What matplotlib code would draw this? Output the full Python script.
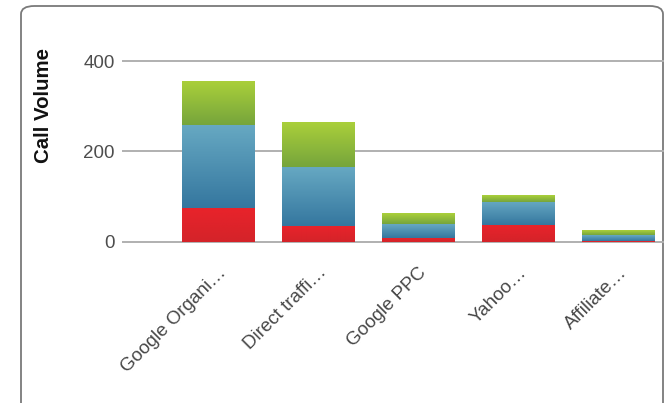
import numpy as np
import matplotlib
matplotlib.use("Agg")
import matplotlib.pyplot as plt
from matplotlib.patches import FancyBboxPatch
from matplotlib.colors import LinearSegmentedColormap

plt.rcParams['font.family'] = ['Liberation Sans', 'DejaVu Sans']

categories = ["Google Organi\u2026", "Direct traffi\u2026", "Google PPC", "Yahoo\u2026", "Affiliate\u2026"]
red_vals = [75, 35, 9, 37, 2]
blue_vals = [183, 130, 30, 52, 13]
green_vals = [98, 100, 24, 14, 11]

# gradient colours (top, bottom)
grads = [("#e8232b", "#d42329"), ("#66a8c2", "#35779f"), ("#abd03a", "#76a53c")]

fig = plt.figure(figsize=(6.68, 4.03), dpi=100)

# rounded frame
frame = FancyBboxPatch((21 / 668, -0.05), 642 / 668, (403 - 6) / 403 + 0.05,
                       boxstyle="round,pad=0,rounding_size=0.02",
                       transform=fig.transFigure, facecolor="none",
                       edgecolor="#7a7a7a", linewidth=1.3, zorder=-1)
fig.patches.append(frame)

ax = fig.add_axes([123 / 668, (403 - 241.7) / 403, (663 - 123) / 668, (241.7 - 52) / 403])
ax.patch.set_alpha(0)

x = np.arange(len(categories))
bottoms = np.zeros(len(categories))
ymax = 420
for vals, (ctop, cbot) in zip([red_vals, blue_vals, green_vals], grads):
    bars = ax.bar(x, vals, width=0.73, bottom=bottoms, color=cbot, zorder=3, linewidth=0)
    cmap = LinearSegmentedColormap.from_list("g", [cbot, ctop])
    grad = np.linspace(0, 1, 64).reshape(-1, 1)
    for b in bars:
        x0, y0 = b.get_x(), b.get_y()
        w, h = b.get_width(), b.get_height()
        if h <= 0:
            continue
        im = ax.imshow(grad, cmap=cmap, aspect="auto", origin="lower",
                       extent=[x0, x0 + w, y0, y0 + h], zorder=4)
        im.set_clip_path(b)
    bottoms += np.array(vals)

ax.set_xlim(-0.95, 4.45)
ax.set_ylim(0, ymax)
for yv in [0, 200, 400]:
    ax.axhline(yv, color="#b0b0b0", linewidth=1.4, zorder=1, clip_on=False)

for s in ax.spines.values():
    s.set_visible(False)

ax.set_yticks([0, 200, 400])
ax.set_yticklabels(["0", "200", "400"], fontsize=13.5, color="#4d4d4d")
ax.tick_params(axis="y", length=0, pad=6)
ax.set_xticks(x)
ax.set_xticklabels(categories, rotation=45, ha="right", rotation_mode="anchor",
                   fontsize=13.6, color="#474747")
ax.tick_params(axis="x", length=0, pad=16)

fig.text(43.5 / 668, 1 - 105.5 / 403, "Call Volume", rotation=90, fontsize=14.7,
         fontweight="bold", ha="center", va="center", color="#111111")

fig.savefig("out.png", dpi=100)
